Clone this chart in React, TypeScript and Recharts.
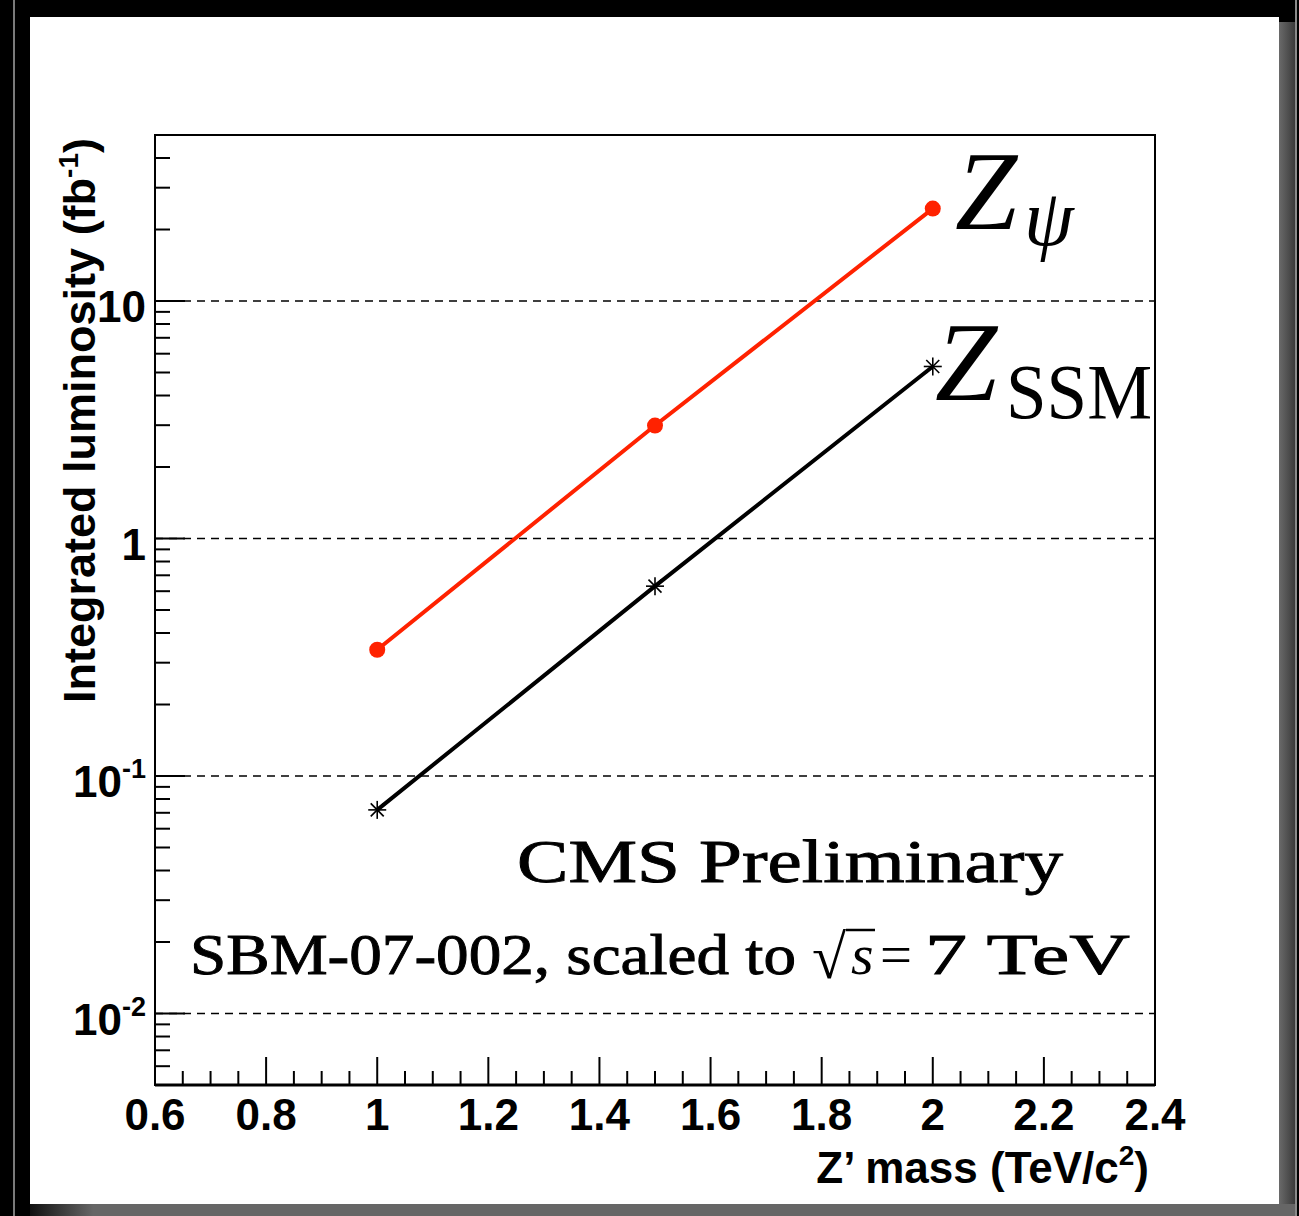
import React from 'react';
import {
    LineChart,
    Line,
    XAxis,
    YAxis,
    ReferenceLine,
    ReferenceArea,
} from 'recharts';

// Z' mass points (TeV/c^2) and the luminosity needed for each model (fb^-1)
const masses = [1, 1.5, 2];
const zPsiLumi = [0.34, 2.99, 24.5];
const zSsmLumi = [0.072, 0.63, 5.3];

// axis ticks
const xMajorTicks = [0.6, 0.8, 1, 1.2, 1.4, 1.6, 1.8, 2, 2.2, 2.4];
const yMajorTicks = [0.01, 0.1, 1, 10];
const yLabelBase = ['10', '10', '1', '10'];
const yLabelExp = ['-2', '-1', '', ''];

const X_DOMAIN: [number, number] = [0.6, 2.4];
const Y_DOMAIN: [number, number] = [0.005, 50];

const chartData = masses.map((m, i) => ({
    mass: m,
    zpsi: zPsiLumi[i],
    zssm: zSsmLumi[i],
}));

// minor ticks every 0.05 on x, 2..9 per decade on y
const xTicks = Array.from({ length: 37 }, (_, i) => Math.round((0.6 + i * 0.05) * 100) / 100);
const yTicks = [0.001, 0.01, 0.1, 1, 10]
    .flatMap((d) => [1, 2, 3, 4, 5, 6, 7, 8, 9].map((k) => Number((d * k).toPrecision(3))))
    .filter((v) => v >= Y_DOMAIN[0] && v <= Y_DOMAIN[1]);

const SANS = '"Liberation Sans", Arial, Helvetica, sans-serif';
const SERIF = '"Liberation Serif", "Times New Roman", serif';
const RED = '#ff2200';

const isMajorX = (v: number) => xMajorTicks.some((t) => Math.abs(t - v) < 1e-6);

const XTick = (props: any) => {
    const { x, y, payload } = props;
    const major = isMajorX(payload.value);
    return (
        <g>
            <line x1={x} x2={x} y1={y} y2={y - (major ? 28 : 14)} stroke="#000" strokeWidth={2} />
            {major && (
                <text x={x} y={y + 45} textAnchor="middle" fontFamily={SANS} fontWeight="bold" fontSize={44} fill="#000">
                    {String(payload.value)}
                </text>
            )}
        </g>
    );
};

const YTick = (props: any) => {
    const { x, y, payload } = props;
    const idx = yMajorTicks.findIndex((t) => Math.abs(t - payload.value) / t < 1e-6);
    const major = idx >= 0;
    return (
        <g>
            <line x1={x} x2={x + (major ? 30 : 15)} y1={y} y2={y} stroke="#000" strokeWidth={2} />
            {major && (
                <text x={x - 9} y={y + 21} textAnchor="end" fontFamily={SANS} fontWeight="bold" fontSize={44} fill="#000">
                    {yLabelBase[idx]}
                    {yLabelExp[idx] && (
                        <tspan dy={-19} fontSize={27}>{yLabelExp[idx]}</tspan>
                    )}
                </text>
            )}
        </g>
    );
};

const StarDot = (props: any) => {
    const { cx, cy } = props;
    const s = 9;
    const d = 6.5;
    return (
        <g stroke="#000" strokeWidth={1.6}>
            <line x1={cx} y1={cy - s} x2={cx} y2={cy + s} />
            <line x1={cx - s} y1={cy} x2={cx + s} y2={cy} />
            <line x1={cx - d} y1={cy - d} x2={cx + d} y2={cy + d} />
            <line x1={cx - d} y1={cy + d} x2={cx + d} y2={cy - d} />
        </g>
    );
};

// serif annotation text, slightly thickened like the TeX rendering
const heavy = { stroke: '#000', strokeWidth: 0.9 };

export default function App() {
    return (
        <div style={{ position: 'absolute', left: 0, top: 0, width: 1299, height: 1216, background: '#000', overflow: 'hidden' }}>
            {/* frame / shadow decorations */}
            <svg width={1299} height={1216} style={{ position: 'absolute', left: 0, top: 0 }}>
                <defs>
                    <linearGradient id="shadowRight" x1="0" y1="0" x2="1" y2="0">
                        <stop offset="0%" stopColor="#6a6a6a" />
                        <stop offset="100%" stopColor="#3a3a3a" />
                    </linearGradient>
                    <linearGradient id="shadowBottom" x1="0" y1="0" x2="1" y2="0">
                        <stop offset="0%" stopColor="#111" />
                        <stop offset="5%" stopColor="#666" />
                        <stop offset="100%" stopColor="#666" />
                    </linearGradient>
                </defs>
                <rect x={13} y={0} width={2} height={1216} fill="#7a7a7a" />
                <rect x={1279} y={22} width={16} height={1194} fill="url(#shadowRight)" />
                <rect x={1295} y={0} width={2} height={1216} fill="#8a8a8a" />
                <rect x={30} y={1204} width={1265} height={12} fill="url(#shadowBottom)" />
                <rect x={30} y={17} width={1249} height={1187} fill="#fff" />
            </svg>

            <div style={{ position: 'absolute', left: 0, top: 0 }}>
                <LineChart
                    width={1299}
                    height={1216}
                    data={chartData}
                    margin={{ top: 135, right: 144, left: 0, bottom: 0 }}
                >
                    <XAxis
                        type="number"
                        dataKey="mass"
                        domain={X_DOMAIN}
                        ticks={xTicks}
                        interval={0}
                        allowDataOverflow
                        height={131}
                        tickSize={0}
                        tickMargin={0}
                        tickLine={false}
                        axisLine={{ stroke: '#000', strokeWidth: 3 }}
                        tick={(p: any) => <XTick {...p} />}
                    />
                    <YAxis
                        type="number"
                        scale="log"
                        domain={Y_DOMAIN}
                        ticks={yTicks}
                        interval={0}
                        allowDataOverflow
                        width={155}
                        tickSize={0}
                        tickMargin={0}
                        tickLine={false}
                        axisLine={{ stroke: '#000', strokeWidth: 2 }}
                        tick={(p: any) => <YTick {...p} />}
                    />
                    {yMajorTicks.map((v) => (
                        <ReferenceLine key={v} y={v} stroke="#000" strokeWidth={1.5} strokeDasharray="8 6" />
                    ))}
                    <ReferenceArea
                        x1={X_DOMAIN[0]}
                        x2={X_DOMAIN[1]}
                        y1={Y_DOMAIN[0]}
                        y2={Y_DOMAIN[1]}
                        fill="none"
                        fillOpacity={0}
                        stroke="#000"
                        strokeWidth={2}
                        ifOverflow="visible"
                    />
                    <Line
                        type="linear"
                        dataKey="zpsi"
                        stroke={RED}
                        strokeWidth={4}
                        dot={{ r: 8, fill: RED, stroke: RED, strokeWidth: 0 }}
                        isAnimationActive={false}
                    />
                    <Line
                        type="linear"
                        dataKey="zssm"
                        stroke="#000"
                        strokeWidth={4}
                        dot={(p: any) => <StarDot key={`s${p.index}`} {...p} />}
                        isAnimationActive={false}
                    />
                </LineChart>
            </div>

            {/* titles and annotations */}
            <svg width={1299} height={1216} style={{ position: 'absolute', left: 0, top: 0, pointerEvents: 'none' }}>
                <text
                    transform="translate(95,138) rotate(-90)"
                    textAnchor="end"
                    fontFamily={SANS}
                    fontWeight="bold"
                    fontSize={45}
                    fill="#000"
                >
                    Integrated luminosity (fb<tspan dy={-17} fontSize={28}>-1</tspan>
                    <tspan dy={17}>)</tspan>
                </text>
                <text x={1149} y={1183} textAnchor="end" fontFamily={SANS} fontWeight="bold" fontSize={44} fill="#000">
                    Z’ mass (TeV/c<tspan dy={-18} fontSize={28}>2</tspan>
                    <tspan dy={18}>)</tspan>
                </text>

                <text x={955} y={229} fontFamily={SERIF} fontStyle="italic" fontSize={112} fill="#000">Z</text>
                <text x={1024} y={245} fontFamily={SERIF} fontStyle="italic" fontSize={80} fill="#000">ψ</text>
                <text x={935} y={400} fontFamily={SERIF} fontStyle="italic" fontSize={112} fill="#000">Z</text>
                <text x={1006} y={418} fontFamily={SERIF} fontSize={78} textLength={146} lengthAdjust="spacingAndGlyphs" fill="#000">SSM</text>

                <text x={517} y={882} fontFamily={SERIF} fontSize={62} textLength={546} lengthAdjust="spacingAndGlyphs" fill="#000" {...heavy}>
                    CMS Preliminary
                </text>
                <text x={190} y={974} fontFamily={SERIF} fontSize={58} textLength={606} lengthAdjust="spacingAndGlyphs" fill="#000" {...heavy}>
                    SBM-07-002, scaled to
                </text>
                <text x={812} y={978} fontFamily={SERIF} fontSize={62} fill="#000">√</text>
                <text x={851} y={974} fontFamily={SERIF} fontStyle="italic" fontSize={58} fill="#000">s</text>
                <line x1={846} x2={875} y1={930} y2={930} stroke="#000" strokeWidth={2.5} />
                <text x={880} y={974} fontFamily={SERIF} fontSize={58} textLength={32} lengthAdjust="spacingAndGlyphs" fill="#000">=</text>
                <text x={925} y={974} fontFamily={SERIF} fontSize={58} textLength={205} lengthAdjust="spacingAndGlyphs" fill="#000" {...heavy}>
                    7 TeV
                </text>
            </svg>
        </div>
    );
}
